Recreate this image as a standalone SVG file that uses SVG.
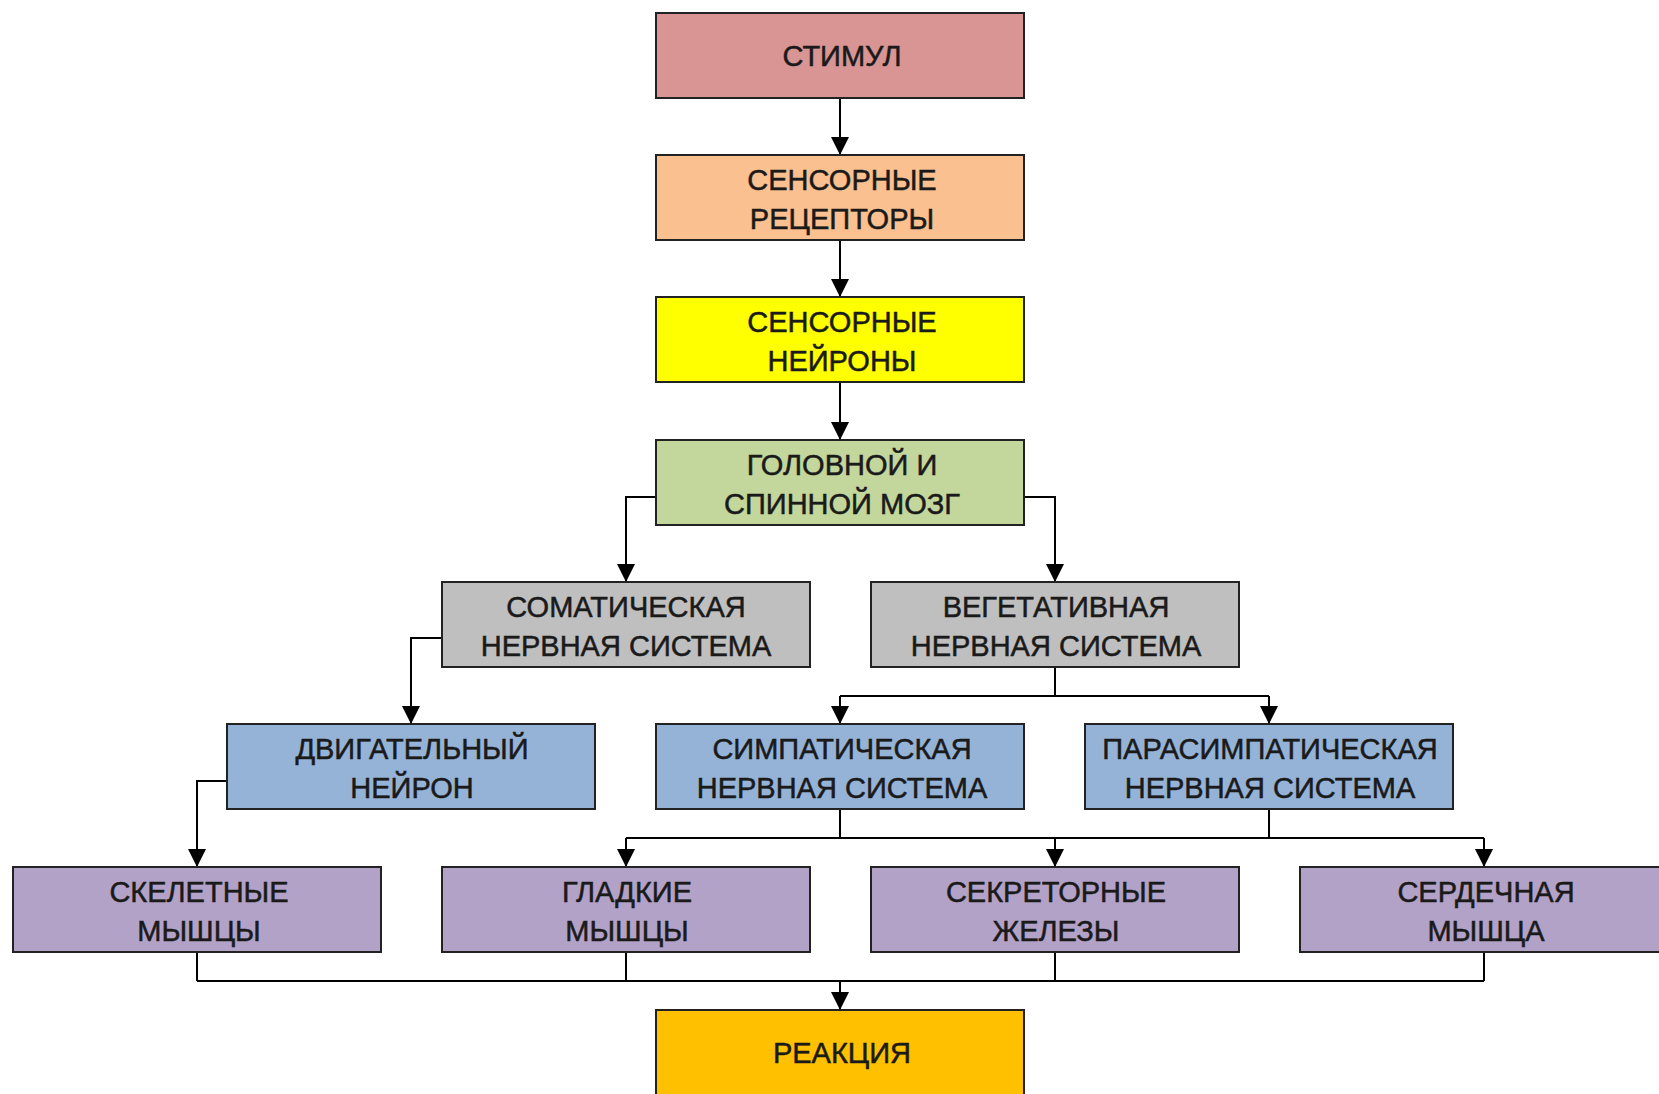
<svg xmlns="http://www.w3.org/2000/svg" width="1659" height="1094" viewBox="0 0 1659 1094">
<style>
.box{stroke:#222;stroke-width:2}
.t{font-family:"Liberation Sans",Arial,sans-serif;font-size:29px;fill:#1a1a1a;stroke:#1a1a1a;stroke-width:0.5;text-anchor:middle}
.c{fill:none;stroke:#000;stroke-width:2}
.pink{fill:#D99594}.peach{fill:#FAC090}.yel{fill:#FFFF00}.grn{fill:#C3D69B}.gry{fill:#BFBFBF}.blu{fill:#95B3D7}.pur{fill:#B3A2C7}.org{fill:#FFC000}
</style>
<defs>
<marker id="ah" markerUnits="userSpaceOnUse" markerWidth="18" markerHeight="18" refX="18" refY="9" orient="auto">
<path d="M0,0 L18,9 L0,18 z" fill="#000"/>
</marker>
</defs>
<rect width="1659" height="1094" fill="#fff"/>
<g id="connectors">
<path class="c" d="M840,98 V155" marker-end="url(#ah)"/>
<path class="c" d="M840,240 V297" marker-end="url(#ah)"/>
<path class="c" d="M840,382 V440" marker-end="url(#ah)"/>
<path class="c" d="M656,497 H626 V582" marker-end="url(#ah)"/>
<path class="c" d="M1024,497 H1055 V582" marker-end="url(#ah)"/>
<path class="c" d="M442,638 H411 V724" marker-end="url(#ah)"/>
<path class="c" d="M1055,667 V696 M840,696 H1269"/>
<path class="c" d="M840,696 V724" marker-end="url(#ah)"/>
<path class="c" d="M1269,696 V724" marker-end="url(#ah)"/>
<path class="c" d="M840,810 V838 M1269,810 V838 M626,838 H1484"/>
<path class="c" d="M626,838 V867" marker-end="url(#ah)"/>
<path class="c" d="M1055,838 V867" marker-end="url(#ah)"/>
<path class="c" d="M1484,838 V867" marker-end="url(#ah)"/>
<path class="c" d="M227,781 H197 V867" marker-end="url(#ah)"/>
<path class="c" d="M197,952 V981 M626,952 V981 M1055,952 V981 M1484,952 V981 M197,981 H1484"/>
<path class="c" d="M840,981 V1010" marker-end="url(#ah)"/>
</g>
<g id="stimul"><rect class="box pink" x="656" y="13" width="368" height="85"/><text class="t" x="842" y="66">СТИМУЛ</text></g>
<g id="receptors"><rect class="box peach" x="656" y="155" width="368" height="85"/><text class="t" x="842" y="190">СЕНСОРНЫЕ</text><text class="t" x="842" y="229">РЕЦЕПТОРЫ</text></g>
<g id="sensory-neurons"><rect class="box yel" x="656" y="297" width="368" height="85"/><text class="t" x="842" y="332">СЕНСОРНЫЕ</text><text class="t" x="842" y="371">НЕЙРОНЫ</text></g>
<g id="brain"><rect class="box grn" x="656" y="440" width="368" height="85"/><text class="t" x="842" y="475">ГОЛОВНОЙ И</text><text class="t" x="842" y="514">СПИННОЙ МОЗГ</text></g>
<g id="somatic"><rect class="box gry" x="442" y="582" width="368" height="85"/><text class="t" x="626" y="617">СОМАТИЧЕСКАЯ</text><text class="t" x="626" y="656">НЕРВНАЯ СИСТЕМА</text></g>
<g id="vegetative"><rect class="box gry" x="871" y="582" width="368" height="85"/><text class="t" x="1056" y="617">ВЕГЕТАТИВНАЯ</text><text class="t" x="1056" y="656">НЕРВНАЯ СИСТЕМА</text></g>
<g id="motor"><rect class="box blu" x="227" y="724" width="368" height="85"/><text class="t" x="412" y="759">ДВИГАТЕЛЬНЫЙ</text><text class="t" x="412" y="798">НЕЙРОН</text></g>
<g id="sympathetic"><rect class="box blu" x="656" y="724" width="368" height="85"/><text class="t" x="842" y="759">СИМПАТИЧЕСКАЯ</text><text class="t" x="842" y="798">НЕРВНАЯ СИСТЕМА</text></g>
<g id="parasympathetic"><rect class="box blu" x="1085" y="724" width="368" height="85"/><text class="t" x="1270" y="759">ПАРАСИМПАТИЧЕСКАЯ</text><text class="t" x="1270" y="798">НЕРВНАЯ СИСТЕМА</text></g>
<g id="skeletal"><rect class="box pur" x="13" y="867" width="368" height="85"/><text class="t" x="199" y="902">СКЕЛЕТНЫЕ</text><text class="t" x="199" y="941">МЫШЦЫ</text></g>
<g id="smooth"><rect class="box pur" x="442" y="867" width="368" height="85"/><text class="t" x="627" y="902">ГЛАДКИЕ</text><text class="t" x="627" y="941">МЫШЦЫ</text></g>
<g id="secretory"><rect class="box pur" x="871" y="867" width="368" height="85"/><text class="t" x="1056" y="902">СЕКРЕТОРНЫЕ</text><text class="t" x="1056" y="941">ЖЕЛЕЗЫ</text></g>
<g id="cardiac"><rect class="box pur" x="1300" y="867" width="368" height="85"/><text class="t" x="1486" y="902">СЕРДЕЧНАЯ</text><text class="t" x="1486" y="941">МЫШЦА</text></g>
<g id="reaction"><rect class="box org" x="656" y="1010" width="368" height="85"/><text class="t" x="842" y="1063">РЕАКЦИЯ</text></g>
</svg>
